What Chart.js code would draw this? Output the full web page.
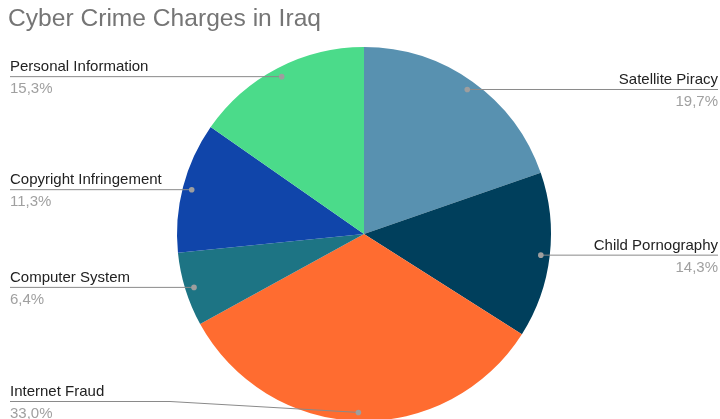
<!DOCTYPE html>
<html>
<head>
<meta charset="utf-8">
<script src="https://cdn.jsdelivr.net/npm/chart.js@4.4.1/dist/chart.umd.min.js"></script>
<style>
  html, body { margin: 0; padding: 0; background: #fff; }
  #wrap { width: 720px; height: 419px; }
</style>
</head>
<body>
<div id="wrap"><canvas id="chart" width="720" height="419"></canvas></div>
<script>
const chartTitle = 'Cyber Crime Charges in Iraq';
const categories = [
  'Satellite Piracy',
  'Child Pornography',
  'Internet Fraud',
  'Computer System',
  'Copyright Infringement',
  'Personal Information',
];
const shares = [19.7, 14.3, 33.0, 6.4, 11.3, 15.3];
const sliceColors = ['#5891b0', '#003f5c', '#ff6c30', '#1d7484', '#1045aa', '#4bdb8a'];

const FONT = '"Liberation Sans", Arial, sans-serif';

// title and leader-line labels, drawn after the pie
const leaderLabels = {
  id: 'leaderLabels',
  afterDraw(chart) {
    const { ctx } = chart;
    const meta = chart.getDatasetMeta(0);
    const w = chart.width;
    const maxLineY = chart.height - 18;

    ctx.save();
    ctx.fillStyle = '#757575';
    ctx.font = '24.6px ' + FONT;
    ctx.textBaseline = 'middle';
    ctx.textAlign = 'left';
    ctx.fillText(chartTitle, 8, 19);

    meta.data.forEach((arc, i) => {
      const mid = (arc.startAngle + arc.endAngle) / 2;
      const r = arc.outerRadius * 0.952;
      const dx = arc.x + Math.cos(mid) * r;
      const dy = arc.y + Math.sin(mid) * r;
      const right = Math.cos(mid) > 0;
      const lineY = Math.min(dy, maxLineY);
      const edgeX = right ? w - 2 : 10;

      ctx.strokeStyle = '#8a8a8a';
      ctx.lineWidth = 1;
      ctx.beginPath();
      ctx.moveTo(edgeX, lineY + 0.5);
      if (lineY !== dy) {
        const elbow = right ? w - 170 : 170;
        ctx.lineTo(elbow, lineY + 0.5);
      }
      ctx.lineTo(dx, dy + 0.5);
      ctx.stroke();

      ctx.fillStyle = '#9e9e9e';
      ctx.beginPath();
      ctx.arc(dx, dy + 0.5, 2.8, 0, Math.PI * 2);
      ctx.fill();

      ctx.textAlign = right ? 'right' : 'left';
      ctx.font = '15px ' + FONT;
      ctx.fillStyle = '#222222';
      ctx.fillText(categories[i], edgeX, lineY - 9);
      ctx.fillStyle = '#a0a0a0';
      ctx.fillText(shares[i].toFixed(1).replace('.', ',') + '%', edgeX, lineY + 13);
    });
    ctx.restore();
  },
};

new Chart(document.getElementById('chart'), {
  type: 'pie',
  data: {
    labels: categories,
    datasets: [{
      data: shares,
      backgroundColor: sliceColors,
      borderWidth: 0,
      radius: 187,
    }],
  },
  options: {
    animation: false,
    responsive: false,
    layout: { padding: { top: 49, bottom: 0, left: 8, right: 0 } },
    plugins: {
      legend: { display: false },
      title: { display: false },
      tooltip: { enabled: false },
    },
  },
  plugins: [leaderLabels],
});
</script>
</body>
</html>
